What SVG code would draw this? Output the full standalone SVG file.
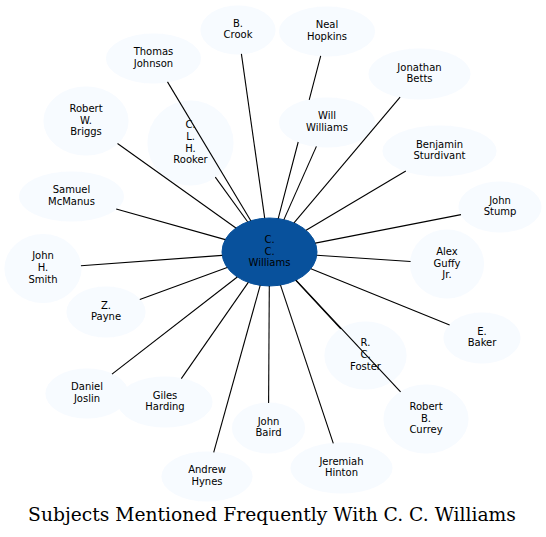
<svg xmlns="http://www.w3.org/2000/svg" width="546" height="537" viewBox="0 0 546 537">
<style>
.n ellipse{fill:#f7fbff;stroke:#f7fbff;stroke-width:1}
.c ellipse{fill:#08519c;stroke:#08519c;stroke-width:1}
text{font-family:"DejaVu Sans",Verdana,sans-serif;font-size:10px;fill:#000;text-anchor:middle}
.e line,.e path{stroke:#000;stroke-width:1.1;fill:none}
.title{font-family:"DejaVu Serif",serif;font-size:18.7px}
</style>
<rect width="546" height="537" fill="#fff"/>
<g id="nodes">
<g id="n_center" class="c"><ellipse cx="269.5" cy="252" rx="47.5" ry="34"/><text><tspan x="269.5" y="242.8">C.</tspan><tspan x="269.5" y="254.6">C.</tspan><tspan x="269.5" y="266.4">Williams</tspan></text></g>
<g id="n_crook" class="n"><ellipse cx="238" cy="30" rx="37" ry="24"/><text><tspan x="238" y="26.6">B.</tspan><tspan x="238" y="38.4">Crook</tspan></text></g>
<g id="n_johnson" class="n"><ellipse cx="153.5" cy="58.5" rx="47" ry="24.5"/><text><tspan x="153.5" y="55.1">Thomas</tspan><tspan x="153.5" y="66.9">Johnson</tspan></text></g>
<g id="n_briggs" class="n"><ellipse cx="86" cy="121" rx="42" ry="34"/><text><tspan x="86" y="111.8">Robert</tspan><tspan x="86" y="123.6">W.</tspan><tspan x="86" y="135.4">Briggs</tspan></text></g>
<g id="n_rooker" class="n"><ellipse cx="190.5" cy="143" rx="42.5" ry="42"/><text><tspan x="190.5" y="127.9">C.</tspan><tspan x="190.5" y="139.7">L.</tspan><tspan x="190.5" y="151.5">H.</tspan><tspan x="190.5" y="163.3">Rooker</tspan></text></g>
<g id="n_mcmanus" class="n"><ellipse cx="71.5" cy="196.5" rx="52" ry="24.5"/><text><tspan x="71.5" y="193.1">Samuel</tspan><tspan x="71.5" y="204.9">McManus</tspan></text></g>
<g id="n_smith" class="n"><ellipse cx="43" cy="268.5" rx="38" ry="34"/><text><tspan x="43" y="259.3">John</tspan><tspan x="43" y="271.1">H.</tspan><tspan x="43" y="282.9">Smith</tspan></text></g>
<g id="n_hopkins" class="n"><ellipse cx="327" cy="31.5" rx="47.5" ry="24.5"/><text><tspan x="327" y="28.1">Neal</tspan><tspan x="327" y="39.9">Hopkins</tspan></text></g>
<g id="n_willwilliams" class="n"><ellipse cx="327" cy="122.5" rx="47.5" ry="24.5"/><text><tspan x="327" y="119.1">Will</tspan><tspan x="327" y="130.9">Williams</tspan></text></g>
<g id="n_betts" class="n"><ellipse cx="419.5" cy="74" rx="50.5" ry="25"/><text><tspan x="419.5" y="70.6">Jonathan</tspan><tspan x="419.5" y="82.4">Betts</tspan></text></g>
<g id="n_sturdivant" class="n"><ellipse cx="439.5" cy="151" rx="56.5" ry="25"/><text><tspan x="439.5" y="147.6">Benjamin</tspan><tspan x="439.5" y="159.4">Sturdivant</tspan></text></g>
<g id="n_stump" class="n"><ellipse cx="500" cy="207" rx="41" ry="25"/><text><tspan x="500" y="203.6">John</tspan><tspan x="500" y="215.4">Stump</tspan></text></g>
<g id="n_guffy" class="n"><ellipse cx="447" cy="264" rx="36.5" ry="34"/><text><tspan x="447" y="254.8">Alex</tspan><tspan x="447" y="266.6">Guffy</tspan><tspan x="447" y="278.4">Jr.</tspan></text></g>
<g id="n_baker" class="n"><ellipse cx="482" cy="338" rx="38" ry="25"/><text><tspan x="482" y="334.6">E.</tspan><tspan x="482" y="346.4">Baker</tspan></text></g>
<g id="n_foster" class="n"><ellipse cx="365.5" cy="355.5" rx="40.5" ry="33.5"/><text><tspan x="365.5" y="346.3">R.</tspan><tspan x="365.5" y="358.1">C.</tspan><tspan x="365.5" y="369.9">Foster</tspan></text></g>
<g id="n_currey" class="n"><ellipse cx="426" cy="419" rx="42" ry="34"/><text><tspan x="426" y="409.8">Robert</tspan><tspan x="426" y="421.6">B.</tspan><tspan x="426" y="433.4">Currey</tspan></text></g>
<g id="n_hinton" class="n"><ellipse cx="341.5" cy="468" rx="50.5" ry="25"/><text><tspan x="341.5" y="464.6">Jeremiah</tspan><tspan x="341.5" y="476.4">Hinton</tspan></text></g>
<g id="n_baird" class="n"><ellipse cx="268.5" cy="428" rx="36" ry="25"/><text><tspan x="268.5" y="424.6">John</tspan><tspan x="268.5" y="436.4">Baird</tspan></text></g>
<g id="n_hynes" class="n"><ellipse cx="207" cy="476.5" rx="45" ry="24.5"/><text><tspan x="207" y="473.1">Andrew</tspan><tspan x="207" y="484.9">Hynes</tspan></text></g>
<g id="n_harding" class="n"><ellipse cx="165" cy="402" rx="47" ry="25"/><text><tspan x="165" y="398.6">Giles</tspan><tspan x="165" y="410.4">Harding</tspan></text></g>
<g id="n_joslin" class="n"><ellipse cx="87" cy="393.5" rx="41" ry="24.5"/><text><tspan x="87" y="390.1">Daniel</tspan><tspan x="87" y="401.9">Joslin</tspan></text></g>
<g id="n_payne" class="n"><ellipse cx="106" cy="312" rx="39" ry="25"/><text><tspan x="106" y="308.6">Z.</tspan><tspan x="106" y="320.4">Payne</tspan></text></g>
</g>
<g id="connectors" class="e">
<line x1="264.7" y1="218.2" x2="241.4" y2="53.9"/>
<line x1="250.8" y1="220.8" x2="167.5" y2="81.9"/>
<line x1="235.9" y1="228.0" x2="117.5" y2="143.5"/>
<line x1="247.6" y1="221.8" x2="215.3" y2="177.1"/>
<line x1="225.3" y1="239.6" x2="116.2" y2="209.0"/>
<line x1="222.2" y1="255.4" x2="80.9" y2="265.7"/>
<path d="M278.2 218.6L298.2 142.0M309.2 99.8L320.7 55.8"/>
<line x1="283.9" y1="219.6" x2="316.4" y2="146.4"/>
<line x1="294.0" y1="222.9" x2="400.1" y2="97.1"/>
<line x1="306.1" y1="230.3" x2="405.8" y2="171.0"/>
<line x1="315.3" y1="243.1" x2="461.0" y2="214.6"/>
<line x1="316.8" y1="255.2" x2="410.6" y2="261.5"/>
<line x1="310.9" y1="268.7" x2="449.6" y2="324.9"/>
<line x1="295.8" y1="280.3" x2="340.8" y2="328.9"/>
<line x1="296.0" y1="280.2" x2="400.6" y2="391.9"/>
<line x1="280.5" y1="285.1" x2="333.3" y2="443.3"/>
<line x1="269.3" y1="286.0" x2="268.6" y2="403.0"/>
<line x1="260.2" y1="285.3" x2="213.7" y2="452.3"/>
<line x1="248.3" y1="282.4" x2="181.3" y2="378.6"/>
<line x1="237.3" y1="277.0" x2="112.0" y2="374.1"/>
<line x1="227.2" y1="267.5" x2="139.8" y2="299.6"/>
</g>
<text class="title" x="272" y="521">Subjects Mentioned Frequently With C. C. Williams</text>
</svg>
